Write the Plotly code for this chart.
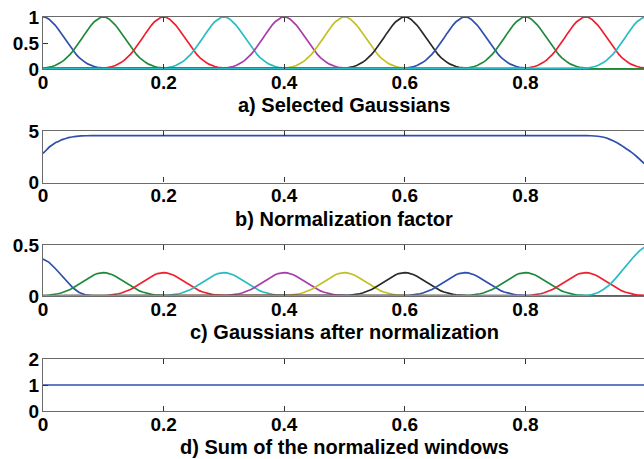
import plotly.graph_objects as go

# ---------------- data ----------------
CENTERS = [0.0, 0.1, 0.2, 0.3, 0.4, 0.5, 0.6, 0.7, 0.8, 0.9, 1.0]
COLORS = ['#2f4fae', '#1f8a3c', '#ee2030', '#26bcc2', '#a83caa', '#c2c023',
          '#2a2a2a', '#2f4fae', '#1f8a3c', '#ee2030', '#26bcc2']

# half profile of one selected Gaussian (offset from centre -> value)
OFFSETS_HALF = [0.0, 0.005, 0.01, 0.015, 0.02, 0.025, 0.03, 0.035, 0.04, 0.045,
                0.05, 0.055, 0.06, 0.065, 0.07, 0.075, 0.08, 0.085, 0.09, 0.095,
                0.1, 0.105, 0.11, 0.115, 0.12]
PROFILE_HALF = [1.0, 0.99, 0.959, 0.91, 0.845, 0.769, 0.685, 0.598, 0.511, 0.427,
                0.35, 0.281, 0.22, 0.169, 0.128, 0.094, 0.068, 0.048, 0.033, 0.023,
                0.015, 0.0097, 0.0062, 0.0039, 0.0024]
# half profile of an interior Gaussian after normalization
NORM_PROFILE_HALF = [0.229, 0.227, 0.22, 0.208, 0.194, 0.176, 0.157, 0.137, 0.117, 0.098,
                     0.08, 0.064, 0.05, 0.039, 0.029, 0.022, 0.016, 0.011, 0.008, 0.005,
                     0.0035, 0.0022, 0.0014, 0.0009, 0.0005]
# edge windows after normalization
LEFT_EDGE_X = [0.0, 0.01, 0.02, 0.03, 0.04, 0.05, 0.06, 0.07, 0.08, 0.09, 0.1]
LEFT_EDGE_Y = [0.363, 0.33, 0.272, 0.205, 0.138, 0.078, 0.034, 0.012, 0.004, 0.001, 0.0]
RIGHT_EDGE_X = [0.88, 0.89, 0.9, 0.91, 0.92, 0.93, 0.94, 0.95, 0.96, 0.97, 0.98, 0.99, 1.0]
RIGHT_EDGE_Y = [0.0, 0.001, 0.004, 0.013, 0.032, 0.066, 0.112, 0.175, 0.248, 0.32, 0.387, 0.447, 0.49]

# normalization factor
FACTOR_X = [0.0, 0.006, 0.011, 0.017, 0.022, 0.028, 0.033, 0.039, 0.044, 0.05, 0.055,
            0.063, 0.072, 0.085, 0.5, 0.9, 0.908, 0.92, 0.93, 0.94, 0.952, 0.963,
            0.975, 0.985, 0.994, 1.0]
FACTOR_Y = [2.82, 3.18, 3.47, 3.72, 3.9, 4.06, 4.19, 4.3, 4.38, 4.44, 4.48,
            4.52, 4.54, 4.545, 4.545, 4.545, 4.54, 4.49, 4.39, 4.19, 3.86, 3.45,
            2.98, 2.5, 2.01, 1.72]

# sum of the normalized windows
SUM_X = [0.0, 1.0]
SUM_Y = [1.0, 1.0]

X_TICKS = [0, 0.2, 0.4, 0.6, 0.8, 1]
X_TICKTEXT = ['0', '0.2', '0.4', '0.6', '0.8', '1']
TITLES = ['a) Selected Gaussians', 'b) Normalization factor',
          'c) Gaussians after normalization', 'd) Sum of the normalized windows']

# ---------------- figure ----------------
W, H = 644, 459
FONT = 'Arial, Liberation Sans, sans-serif'
LW = 1.7


def full(half_off, half_val):
    off = [-o for o in reversed(half_off[1:])] + list(half_off)
    val = list(reversed(half_val[1:])) + list(half_val)
    return off, val


off_a, val_a = full(OFFSETS_HALF, PROFILE_HALF)
off_c, val_c = full(OFFSETS_HALF, NORM_PROFILE_HALF)

fig = go.Figure()

# panel a
for c, col in zip(CENTERS, COLORS):
    xs = [-0.3] + [c + o for o in off_a] + [1.3]
    ys = [0] + val_a + [0]
    fig.add_trace(go.Scatter(x=xs, y=ys, mode='lines', line=dict(color=col, width=LW),
                             xaxis='x', yaxis='y', showlegend=False))

# panel b
fig.add_trace(go.Scatter(x=FACTOR_X, y=FACTOR_Y, mode='lines',
                         line=dict(color=COLORS[0], width=LW, shape='spline', smoothing=0.6),
                         xaxis='x2', yaxis='y2', showlegend=False))

# panel c
for i, (c, col) in enumerate(zip(CENTERS, COLORS)):
    if i == 0:
        xs = LEFT_EDGE_X + [1.3]
        ys = LEFT_EDGE_Y + [0]
    elif i == len(CENTERS) - 1:
        xs = [-0.3] + RIGHT_EDGE_X
        ys = [0] + RIGHT_EDGE_Y
    else:
        xs = [-0.3] + [c + o for o in off_c] + [1.3]
        ys = [0] + val_c + [0]
    fig.add_trace(go.Scatter(x=xs, y=ys, mode='lines', line=dict(color=col, width=LW),
                             xaxis='x3', yaxis='y3', showlegend=False))

# panel d
fig.add_trace(go.Scatter(x=SUM_X, y=SUM_Y, mode='lines', line=dict(color=COLORS[0], width=LW),
                         xaxis='x4', yaxis='y4', showlegend=False))

# layout geometry (pixels -> paper)
ML = 43
plot_w = W - ML
x_end = plot_w / 603.0
panels = [(17, 69), (131, 182.5), (245, 296), (359, 411)]
yranges = [[0, 1], [0, 5], [0, 0.5], [0, 2]]
yticks = [([0, 0.5, 1], ['0', '0.5', '1']), ([0, 5], ['0', '5']),
          ([0, 0.5], ['0', '0.5']), ([0, 1, 2], ['0', '1', '2'])]
title_y = [105, 219, 332, 447]

tickfont = dict(family=FONT, size=19, color='black', weight='bold')
layout = dict(width=W, height=H, margin=dict(l=ML, r=0, t=0, b=0, autoexpand=False),
              paper_bgcolor='white', plot_bgcolor='white', showlegend=False)
annotations = []
for k in range(4):
    top, bot = panels[k]
    sx = '' if k == 0 else str(k + 1)
    layout['xaxis' + sx] = dict(domain=[0, 1], range=[0, x_end], anchor='y' + sx,
                                tickvals=X_TICKS, ticktext=X_TICKTEXT, tickfont=tickfont,
                                ticks='inside', ticklen=5, tickcolor='#333', tickwidth=1,
                                showline=True, linecolor='#6a6a6a', linewidth=1.2,
                                mirror='ticks', showgrid=False, zeroline=False,
                                ticklabelstandoff=-4, automargin=False)
    layout['yaxis' + sx] = dict(domain=[1 - bot / H, 1 - top / H], range=yranges[k],
                                anchor='x' + sx, tickvals=yticks[k][0], ticktext=yticks[k][1],
                                tickfont=tickfont, ticks='inside', ticklen=5,
                                tickcolor='#333', tickwidth=1, showline=True,
                                linecolor='#6a6a6a', linewidth=1.2, mirror=False,
                                showgrid=False, zeroline=False, ticklabelstandoff=-1,
                                automargin=False)
    annotations.append(dict(text=TITLES[k], xref='paper', yref='paper',
                            x=(344 - ML) / plot_w, y=1 - title_y[k] / H,
                            xanchor='center', yanchor='middle', showarrow=False,
                            font=dict(family=FONT, size=20, color='black', weight='bold')))
layout['annotations'] = annotations
fig.update_layout(**layout)

fig.write_html('out.html', config={'displayModeBar': False},
               post_script="document.body.style.margin='0';document.body.style.overflow='hidden';")
